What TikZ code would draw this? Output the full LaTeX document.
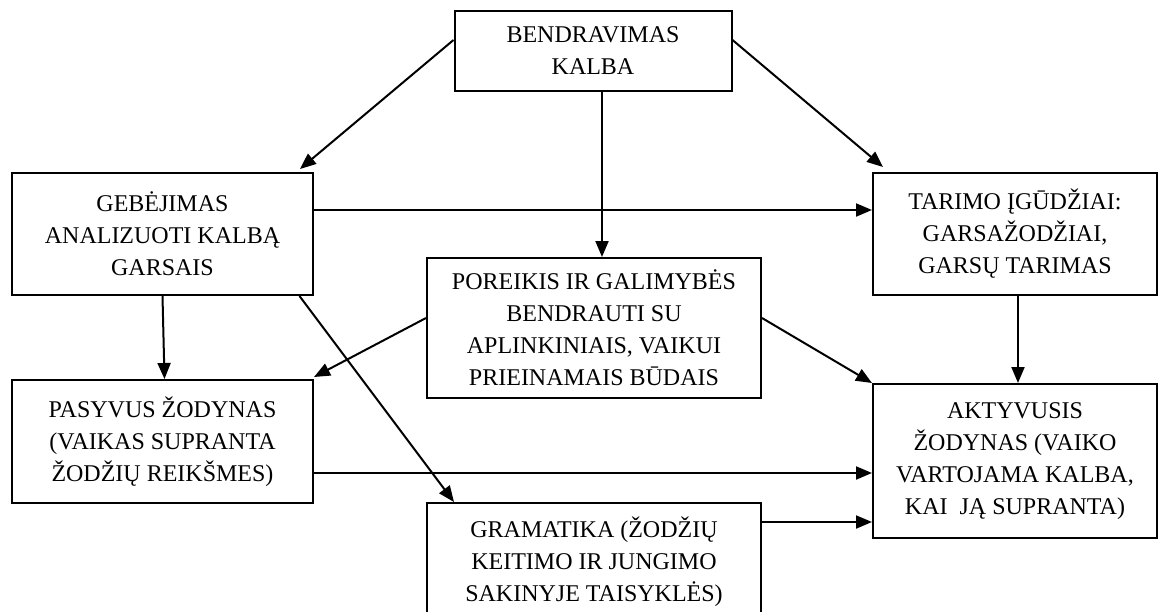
\documentclass[tikz,border=0pt]{standalone}
\usepackage{fontspec}
\setmainfont{Liberation Serif}
\usetikzlibrary{arrows.meta}

\tikzset{
  blokas/.style={draw, line width=2pt, inner sep=0pt, align=center,
    font=\fontsize{24}{32}\selectfont},
  rodykle/.style={line width=2pt, -{Triangle[length=16pt,width=13pt]}}
}

\begin{document}
\begin{tikzpicture}[x=1pt,y=-1pt]
			\useasboundingbox (0,0) rectangle (1160,611);
			\clip (0,0) rectangle (1160,611);
			
			\node[blokas, minimum width=277, minimum height=80] (bendr) at (593,51) {BENDRAVIMAS\\KALBA};
			\node[blokas, minimum width=301, minimum height=122] (gebej) at (162.5,234) {GEBĖJIMAS\\ANALIZUOTI KALBĄ\\GARSAIS};
			\node[blokas, minimum width=284, minimum height=122] (tarimo) at (1015,234) {TARIMO ĮGŪDŽIAI:\\GARSAŽODŽIAI,\\GARSŲ TARIMAS};
			\node[blokas, minimum width=334, minimum height=140] (poreik) at (594,328) {POREIKIS IR GALIMYBĖS\\BENDRAUTI SU\\APLINKINIAIS, VAIKUI\\PRIEINAMAIS BŪDAIS};
			\node[blokas, minimum width=301, minimum height=123] (pasyv) at (162.5,441.5) {PASYVUS ŽODYNAS\\(VAIKAS SUPRANTA\\ŽODŽIŲ REIKŠMES)};
			\node[blokas, minimum width=284, minimum height=154] (aktyv) at (1015,461) {AKTYVUSIS\\ŽODYNAS (VAIKO\\VARTOJAMA KALBA,\\KAI\ \ JĄ SUPRANTA)};
			\node[blokas, minimum width=334, minimum height=117] (gramat) at (594,561.5) {GRAMATIKA (ŽODŽIŲ\\KEITIMO IR JUNGIMO\\SAKINYJE TAISYKLĖS)};
			
			% is bendravimo kalba
			\draw[rodykle] ([yshift=11pt]bendr.west) -- ([xshift=-14pt,yshift=3pt]gebej.north east);
			\draw[rodykle] ([yshift=11pt]bendr.east) -- ([xshift=11pt,yshift=5pt]tarimo.north west);
			\draw[rodykle] ([xshift=9pt]bendr.south) -- ([xshift=8pt]poreik.north);
			
			% is gebejimo
			\draw[rodykle] ([yshift=24pt]gebej.east) -- ([yshift=24pt]tarimo.west);
			\draw[rodykle] (gebej.south) -- ([xshift=2pt]pasyv.north);
			\draw[rodykle] ([xshift=137pt]gebej.south) -- ([xshift=-140pt]gramat.north);
			
			% is poreikio
			\draw[rodykle] ([yshift=10pt]poreik.west) -- ([yshift=2pt]pasyv.north east);
			\draw[rodykle] ([yshift=10pt]poreik.east) -- (aktyv.north west);
			
			% i aktyvuji zodyna
			\draw[rodykle] ([xshift=3pt]tarimo.south) -- ([xshift=3pt]aktyv.north);
			\draw[rodykle] ([yshift=-31.5pt]pasyv.east) -- ([yshift=-12pt]aktyv.west);
			\draw[rodykle] ([yshift=39.5pt]gramat.east) -- ([yshift=-61pt]aktyv.west);
			
\end{tikzpicture}
\end{document}
